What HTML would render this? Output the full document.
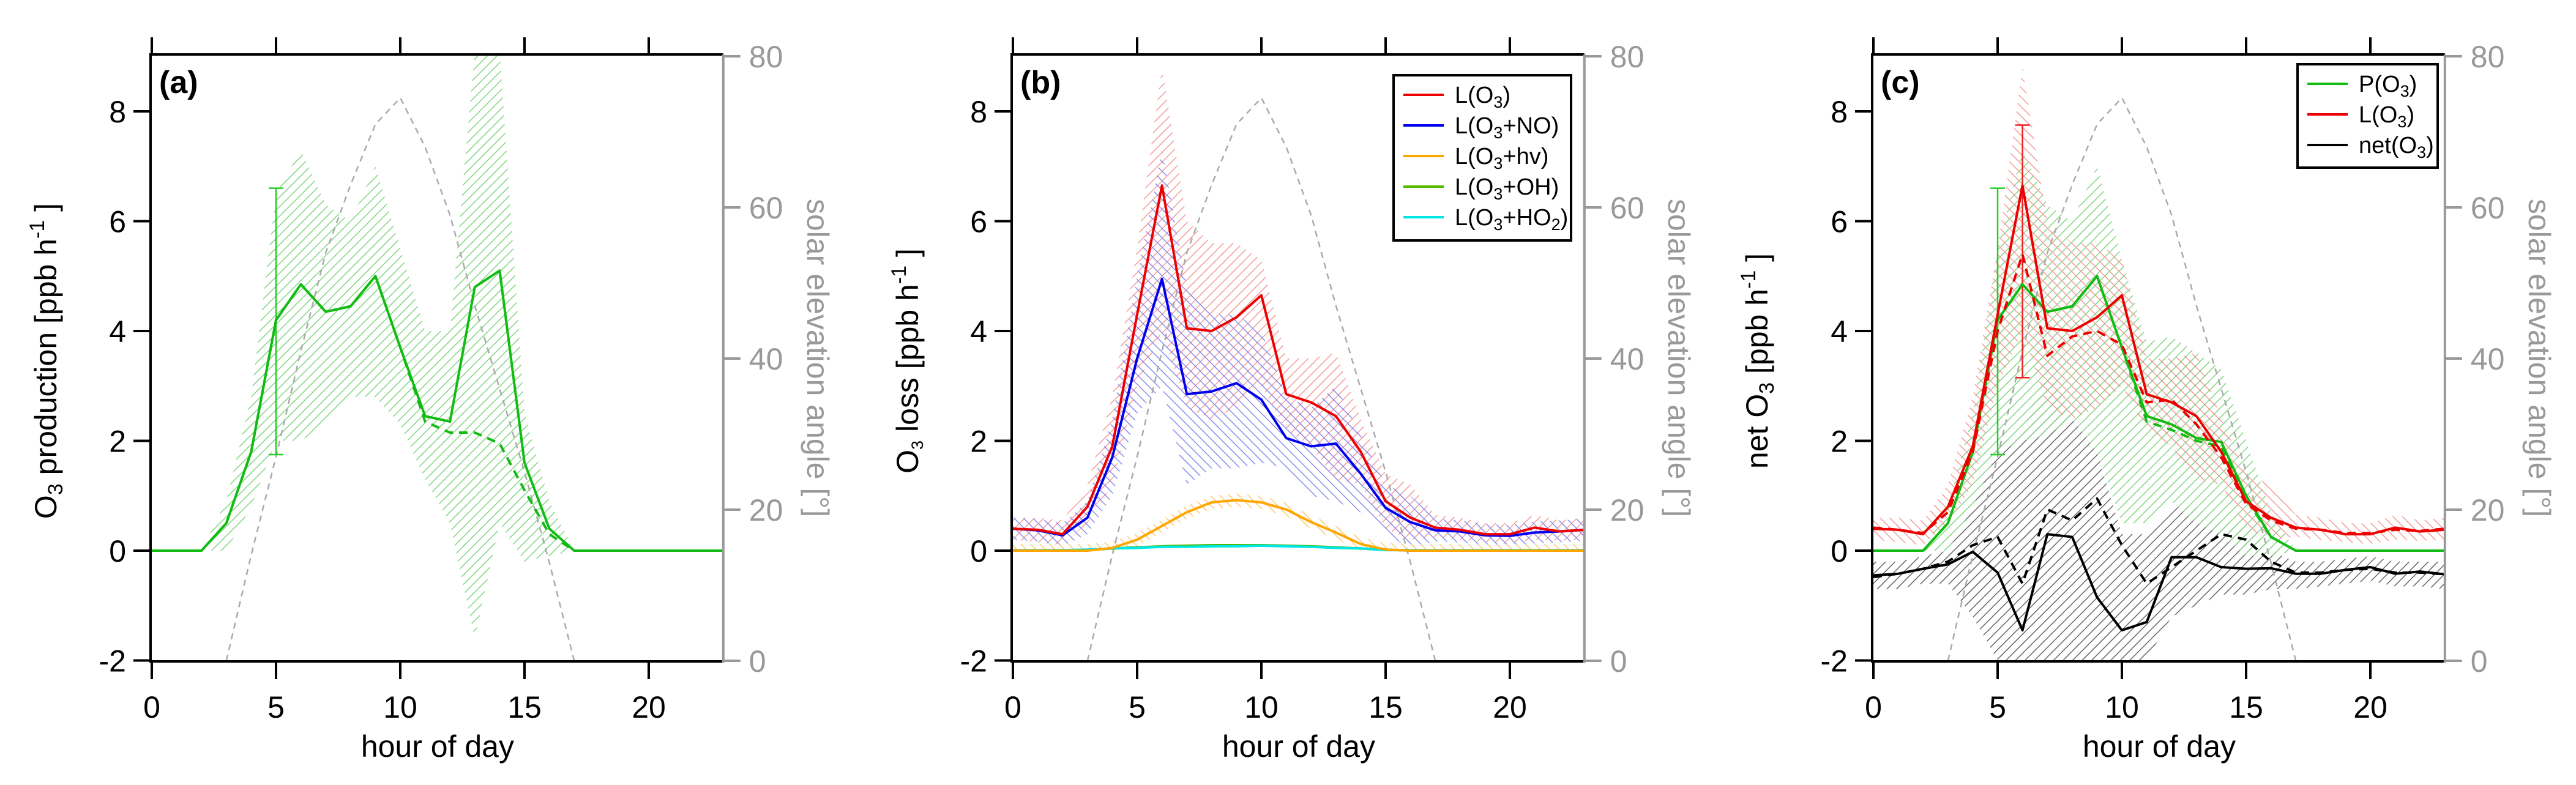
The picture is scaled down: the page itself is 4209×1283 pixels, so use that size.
<!DOCTYPE html>
<html><head><meta charset="utf-8"><style>
html,body{margin:0;padding:0;background:#fff}
svg{display:block;font-family:"Liberation Sans",Arial,sans-serif}
</style></head><body>
<svg id="fig" width="4209" height="1283" viewBox="0 0 4209 1283" xmlns="http://www.w3.org/2000/svg">
<defs>
<pattern id="hg" patternUnits="userSpaceOnUse" width="11" height="11" patternTransform="rotate(45)"><line x1="0" y1="0" x2="0" y2="11" stroke="#7fd67f" stroke-width="3"/></pattern>
<pattern id="hk" patternUnits="userSpaceOnUse" width="11" height="11" patternTransform="rotate(45)"><line x1="0" y1="0" x2="0" y2="11" stroke="#666" stroke-width="3"/></pattern>
<pattern id="hr" patternUnits="userSpaceOnUse" width="11" height="11" patternTransform="rotate(45)"><line x1="0" y1="0" x2="0" y2="11" stroke="#f49a9a" stroke-width="3"/></pattern>
<pattern id="hr2" patternUnits="userSpaceOnUse" width="11" height="11" patternTransform="rotate(-45)"><line x1="0" y1="0" x2="0" y2="11" stroke="#f49a9a" stroke-width="3"/></pattern>
<pattern id="hb" patternUnits="userSpaceOnUse" width="11" height="11" patternTransform="rotate(-45)"><line x1="0" y1="0" x2="0" y2="11" stroke="#8a8af0" stroke-width="3"/></pattern>
<pattern id="ho" patternUnits="userSpaceOnUse" width="11" height="11" patternTransform="rotate(-45)"><line x1="0" y1="0" x2="0" y2="11" stroke="#ffc766" stroke-width="3"/></pattern>
</defs>
</svg>
<script>
// ---- data ----
const hours = [0,1,2,3,4,5,6,7,8,9,10,11,12,13,14,15,16,17,18,19,20,21,22,23];
const solarHours = [3,4,5,6,7,8,9,10,11,12,13,14,15,16,17];
const solarAngle = [0,14,27,41,54,63,71,74.5,68,59,47,36,25,13,0];
const yTicks = [-2,0,2,4,6,8];
const xTicks = [0,5,10,15,20];
const rTicks = [0,20,40,60,80];
// panel a
const pa_P = [0,0,0,0.5,1.8,4.2,4.85,4.35,4.45,5.0,3.7,2.45,2.35,4.8,5.1,1.6,0.4,0,0,0,0,0,0,0];
const pa_Pd = [0,0,0,0.5,1.8,4.2,4.85,4.35,4.45,5.0,3.7,2.35,2.15,2.15,1.95,1.1,0.3,0,0,0,0,0,0,0];
const pa_up = [0,0,0,0.9,2.8,6.5,7.3,6.3,6.0,7.0,5.5,4.0,4.0,9.1,9.1,2.5,0.9,0,0,0,0,0,0,0];
const pa_lo = [0,0,0,0.0,0.8,2.0,2.0,2.3,2.8,2.8,2.3,1.3,0.5,-1.6,0.5,-0.2,-0.1,0,0,0,0,0,0,0];
const pa_err = [5,1.75,6.6];
// panel b
const pb_L = [0.4,0.38,0.3,0.8,1.9,4.3,6.65,4.05,4.0,4.25,4.65,2.85,2.7,2.45,1.8,0.9,0.6,0.42,0.38,0.3,0.3,0.42,0.35,0.38];
const pb_Lup = [0.6,0.6,0.55,1.2,2.8,5.5,8.8,6.0,5.6,5.6,5.3,3.5,3.5,3.6,2.4,1.4,1.2,0.65,0.6,0.5,0.5,0.65,0.55,0.6];
const pb_Llo = [0.2,0.15,0.1,0.5,1.2,3.0,4.0,2.6,2.4,2.6,3.0,2.2,1.9,1.3,1.2,0.4,0.2,0.25,0.2,0.15,0.12,0.2,0.18,0.2];
const pb_NO = [0.4,0.37,0.28,0.6,1.7,3.5,4.95,2.85,2.9,3.05,2.75,2.05,1.9,1.95,1.4,0.78,0.52,0.37,0.35,0.28,0.27,0.33,0.35,0.38];
const pb_NOup = [0.6,0.58,0.5,0.9,2.4,5.0,7.3,4.8,4.3,4.3,4.0,2.8,2.6,3.0,2.1,1.2,1.0,0.58,0.55,0.48,0.47,0.53,0.55,0.58];
const pb_NOlo = [0.2,0.17,0.08,0.3,1.0,2.5,3.0,1.2,1.5,1.5,1.6,1.5,1.0,0.9,0.7,0.3,0.05,0.17,0.15,0.1,0.08,0.13,0.15,0.18];
const pb_hv = [0,0,0,0,0.05,0.2,0.45,0.7,0.88,0.92,0.88,0.75,0.52,0.33,0.12,0.02,0,0,0,0,0,0,0,0];
const pb_OH = [0,0,0,0.01,0.04,0.06,0.08,0.09,0.1,0.1,0.1,0.09,0.08,0.06,0.04,0.02,0,0,0,0,0,0,0,0];
const pb_HO2 = [0.01,0.01,0.01,0.02,0.04,0.05,0.07,0.07,0.08,0.08,0.09,0.08,0.07,0.05,0.04,0.01,0.01,0.01,0.01,0.01,0.01,0.01,0.01,0.01];
// panel c
const pc_P = [0,0,0,0.5,1.8,4.2,4.85,4.35,4.45,5.0,3.7,2.45,2.3,2.05,1.98,1.0,0.25,0,0,0,0,0,0,0];
const pc_Pd = [0,0,0,0.5,1.8,4.2,4.85,4.35,4.45,5.0,3.7,2.35,2.2,2.0,1.9,0.95,0.25,0,0,0,0,0,0,0];
const pc_Pup = [0,0,0,0.8,2.5,5.5,7.3,6.3,6.0,7.0,5.3,3.8,3.9,3.6,3.3,2.0,0.7,0,0,0,0,0,0,0];
const pc_Plo = [0,0,0,0.0,0.8,1.8,2.0,2.1,2.4,1.8,0.5,0.5,0.9,0.5,0.3,-0.1,-0.1,0,0,0,0,0,0,0];
const pc_Ld = [0.42,0.38,0.32,0.7,1.8,4.0,5.4,3.55,3.9,4.0,3.75,2.7,2.75,2.3,1.7,0.85,0.55,0.4,0.38,0.32,0.32,0.38,0.36,0.4];
const pc_N = [-0.45,-0.42,-0.33,-0.25,-0.02,-0.4,-1.45,0.3,0.25,-0.85,-1.45,-1.3,-0.12,-0.12,-0.3,-0.33,-0.32,-0.42,-0.42,-0.35,-0.3,-0.42,-0.38,-0.43];
const pc_Nd = [-0.48,-0.42,-0.33,-0.2,0.1,0.25,-0.6,0.75,0.55,0.95,0.1,-0.6,-0.3,0.0,0.3,0.2,-0.2,-0.4,-0.4,-0.35,-0.33,-0.4,-0.4,-0.43];
const pc_Nup = [-0.2,-0.2,-0.1,0.0,0.8,1.9,2.2,3.3,2.4,1.8,0.3,0.3,0.8,0.8,0.5,0.5,0.0,-0.2,-0.2,-0.15,-0.1,-0.2,-0.2,-0.2];
const pc_Nlo = [-0.7,-0.7,-0.6,-0.6,-1.2,-2.0,-2.0,-2.0,-2.0,-2.0,-2.0,-2.0,-1.2,-1.0,-0.8,-0.8,-0.7,-0.7,-0.65,-0.6,-0.55,-0.65,-0.65,-0.7];
const pc_errP = [5,1.75,6.6];
const pc_errL = [6,3.15,7.75];

// ---- drawing ----
const NS='http://www.w3.org/2000/svg';
const svg=document.getElementById('fig');
function mk(tag,attrs,parent){const e=document.createElementNS(NS,tag);for(const k in attrs)e.setAttribute(k,attrs[k]);(parent||svg).appendChild(e);return e;}
const TOP=89,BOT=1081,PXH=40.6;
function yv(v){return 900-89.75*v;}
function ya(a){return 1080-a*12.35;}

function makePanel(off,id){
  const g=mk('g',{});
  
  
  const x0=248+off, xr=x0+23*PXH;
  const xs=h=>x0+h*PXH;
  const cp=mk('clipPath',{id:'clip'+id},g);
  mk('rect',{x:x0-2,y:TOP,width:xr-x0+2,height:BOT-TOP},cp);
  const data=mk('g',{'clip-path':'url(#clip'+id+')'},g);
  
  
  return {g,data,x0,xr,xs};
}
function band(P,up,lo,fill,name){
  let d='M'+hours.map(h=>P.xs(h)+','+yv(up[h])).join('L')+'L'+hours.slice().reverse().map(h=>P.xs(h)+','+yv(lo[h])).join('L')+'Z';
  const p=mk('path',{d,fill:'url(#'+fill+')',stroke:'none'},P.data);
  
  
}
function line(P,vals,color,name,dash,w){
  const d='M'+hours.map(h=>P.xs(h)+','+yv(vals[h])).join('L');
  const p=mk('path',{d,fill:'none',stroke:color,'stroke-width':w||4,'stroke-linejoin':'round'},P.data);
  if(dash)p.setAttribute('stroke-dasharray',dash);
  
  
}
function solar(P){
  const d='M'+solarHours.map((h,i)=>P.xs(h)+','+ya(solarAngle[i])).join('L');
  const p=mk('path',{d,fill:'none',stroke:'#aaa','stroke-width':2.5,'stroke-dasharray':'10 8'},P.data);
  
  
}
function errbar(P,e,color,name){
  const g=mk('g',{stroke:color,'stroke-width':2.5},P.data);
  
  
  const x=P.xs(e[0]);
  mk('line',{x1:x,x2:x,y1:yv(e[1]),y2:yv(e[2])},g);
  mk('line',{x1:x-12,x2:x+12,y1:yv(e[1]),y2:yv(e[1])},g);
  mk('line',{x1:x-12,x2:x+12,y1:yv(e[2]),y2:yv(e[2])},g);
}
function axes(P,id,ylabHtml,ylabX){
  const g=P.g;
  const ax=mk('g',{stroke:'#000','stroke-width':4,fill:'none'},g);
  
  
  mk('line',{x1:P.x0-2,x2:P.x0-2,y1:TOP-2,y2:BOT+2},ax);
  mk('line',{x1:P.x0-4,x2:P.xr,y1:TOP,y2:TOP},ax);
  mk('line',{x1:P.x0-4,x2:P.xr,y1:BOT,y2:BOT},ax);
  xTicks.forEach(t=>{
    const x=P.xs(t);
    mk('line',{x1:x,x2:x,y1:BOT,y2:BOT+29},ax);
    mk('line',{x1:x,x2:x,y1:TOP,y2:TOP-28},ax);
    const tx=mk('text',{x:x,y:1173,'font-size':50,'text-anchor':'middle',fill:'#000'},g);
    tx.textContent=t;
    
    
  });
  yTicks.forEach(t=>{
    const y=yv(t);
    mk('line',{x1:P.x0-30,x2:P.x0-2,y1:y,y2:y},ax);
    const tx=mk('text',{x:P.x0-42,y:y+18,'font-size':50,'text-anchor':'end',fill:'#000'},g);
    tx.textContent=t;
    
    
  });
  const ra=mk('g',{stroke:'#999','stroke-width':4},g);
  
  
  mk('line',{x1:P.xr,x2:P.xr,y1:TOP,y2:BOT+2},ra);
  rTicks.forEach(t=>{
    const y=ya(t);
    mk('line',{x1:P.xr,x2:P.xr+28,y1:y,y2:y},ra);
    const tx=mk('text',{x:P.xr+42,y:y+18,'font-size':50,fill:'#999'},g);
    tx.textContent=t;
    
    
  });
  const rl=mk('text',{x:0,y:0,'font-size':50,fill:'#999','text-anchor':'middle',transform:'translate('+(P.xr+137)+',585) rotate(90)'},g);
  rl.textContent='solar elevation angle [°]';
  
  
  const xl=mk('text',{x:P.x0+PXH*11.5,y:1237,'font-size':50,'text-anchor':'middle',fill:'#000'},g);
  xl.textContent='hour of day';
  
  
  const yl=mk('text',{x:0,y:0,'font-size':50,'text-anchor':'middle',fill:'#000',transform:'translate('+ylabX+',590) rotate(-90)'},g);
  yl.innerHTML=ylabHtml;
  
  
  const pl=mk('text',{x:P.x0+12,y:152,'font-size':52,'font-weight':'bold',fill:'#000'},g);
  pl.textContent='('+id+')';
  
  
}
function legend(P,id,x,y,w,h,items,dy){
  const g=mk('g',{},P.g);
  
  
  mk('rect',{x,y,width:w,height:h,fill:'#fff',stroke:'#000','stroke-width':4},g);
  items.forEach((it,i)=>{
    const yy=y+32+i*dy;
    const e=mk('g',{},g);
    
    
    mk('line',{x1:x+16,x2:x+82,y1:yy,y2:yy,stroke:it[0],'stroke-width':4},e);
    const t=mk('text',{x:x+100,y:yy+13,'font-size':38,fill:'#000'},e);
    t.innerHTML=it[1];
  });
}
const s3='O<tspan font-size="27" dy="8">3</tspan><tspan dy="-8">';

// Panel a
const A=makePanel(0,'a');
band(A,pa_up,pa_lo,'hg','production-band');
solar(A);
errbar(A,pa_err,'#22cc22','production-error-bar');
line(A,pa_Pd,'#11bb11','production-dashed','14 10');
line(A,pa_P,'#11bb11','production-line');
axes(A,'a','O<tspan font-size="34" dy="10">3</tspan><tspan dy="-10"> production [ppb h</tspan><tspan font-size="34" dy="-20">-1</tspan><tspan dy="20"> ]</tspan>',92);

// Panel b
const B=makePanel(1407,'b');
band(B,pb_Lup,pb_Llo,'hr','loss-band');
band(B,pb_NOup,pb_NOlo,'hb','no-loss-band');
band(B,pb_hv.map(v=>v+0.12),pb_hv.map(v=>Math.max(0,v-0.12)),'ho','hv-loss-band');
solar(B);
line(B,pb_OH,'#55bb00','oh-loss-line');
line(B,pb_HO2,'#00e5e5','ho2-loss-line');
line(B,pb_hv,'#ffa500','hv-loss-line');
line(B,pb_NO,'#0000ee','no-loss-line');
line(B,pb_L,'#ee0000','total-loss-line');
axes(B,'b',s3+' loss [ppb h</tspan><tspan font-size="34" dy="-20">-1</tspan><tspan dy="20"> ]</tspan>',1500);
legend(B,'b',2277,123,290,270,[['#ee0000','L('+s3+')</tspan>'],['#0000ee','L('+s3+'+NO)</tspan>'],['#ffa500','L('+s3+'+hv)</tspan>'],['#55bb00','L('+s3+'+OH)</tspan>'],['#00e5e5','L('+s3+'+HO<tspan font-size="27" dy="8">2</tspan><tspan dy="-8">)</tspan></tspan>']],50);

// Panel c
const C=makePanel(2813,'c');
band(C,pc_Nup,pc_Nlo,'hk','net-band');
band(C,pc_Pup,pc_Plo,'hg','production-band');
band(C,pb_Lup,pb_Llo,'hr2','loss-band');
solar(C);
errbar(C,pc_errP,'#22cc22','production-error-bar');
errbar(C,pc_errL,'#ee2222','loss-error-bar');
line(C,pc_Nd,'#000','net-dashed','14 10');
line(C,pc_N,'#000','net-line');
line(C,pc_Pd,'#11bb11','production-dashed','14 10');
line(C,pc_P,'#11bb11','production-line');
line(C,pc_Ld,'#ee0000','loss-dashed','14 10');
line(C,pb_L,'#ee0000','loss-line');
axes(C,'c','net O<tspan font-size="34" dy="10">3</tspan><tspan dy="-10"> [ppb h</tspan><tspan font-size="34" dy="-20">-1</tspan><tspan dy="20"> ]</tspan>',2888);
legend(C,'c',3754,105,229,169,[['#11bb11','P('+s3+')</tspan>'],['#ee0000','L('+s3+')</tspan>'],['#000','net('+s3+')</tspan>']],50);
</script>
</body></html>
